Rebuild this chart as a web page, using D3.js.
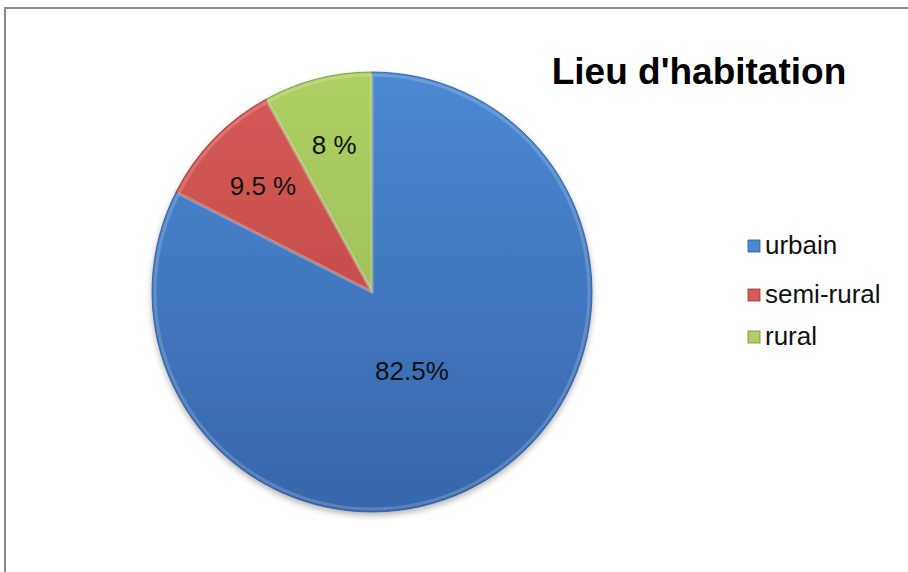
<!DOCTYPE html>
<html>
<head>
<meta charset="utf-8">
<script src="https://cdn.jsdelivr.net/npm/d3@7"></script>
<style>
  body { margin: 0; background: #fff; }
  svg { display: block; font-family: "Liberation Sans", Arial, sans-serif; }
</style>
</head>
<body>
<div id="chart"></div>
<script>
// data
var categories = ["urbain", "semi-rural", "rural"];
var values = [82.5, 9.5, 8];
var labels = ["82.5%", "9.5 %", "8 %"];
var topColors = ["#4c89d3", "#d65a55", "#aed064"];
var bottomColors = ["#3766aa", "#b84440", "#92b250"];
var edgeColors = ["#2f5a96", "#8e3431", "#6f8a38"];
var title = "Lieu d'habitation";

var width = 908, height = 572;
var cx = 372, cy = 292, radius = 220;

var svg = d3.select("#chart").append("svg")
    .attr("width", width)
    .attr("height", height);

// chart frame
svg.append("rect")
    .attr("x", 5).attr("y", 8)
    .attr("width", width + 20).attr("height", height + 20)
    .attr("fill", "#fff")
    .attr("stroke", "#8a8a8a")
    .attr("stroke-width", 2);

var defs = svg.append("defs");

// soft shadow under the pie
var shadow = defs.append("filter").attr("id", "shadow")
    .attr("x", "-20%").attr("y", "-20%").attr("width", "140%").attr("height", "140%");
shadow.append("feGaussianBlur").attr("in", "SourceAlpha").attr("stdDeviation", 3);
shadow.append("feOffset").attr("dx", 0).attr("dy", 3).attr("result", "ob");
shadow.append("feComponentTransfer").append("feFuncA").attr("type", "linear").attr("slope", 0.3);
var merge = shadow.append("feMerge");
merge.append("feMergeNode");
merge.append("feMergeNode").attr("in", "SourceGraphic");

// one gradient per slice, spanning the whole pie
topColors.forEach(function(c, i) {
  var g = defs.append("linearGradient").attr("id", "grad" + i)
      .attr("gradientUnits", "userSpaceOnUse")
      .attr("x1", 0).attr("y1", -radius).attr("x2", 0).attr("y2", radius);
  g.append("stop").attr("offset", "0%").attr("stop-color", c);
  g.append("stop").attr("offset", "100%").attr("stop-color", bottomColors[i]);
});

var pie = d3.pie().sort(null).value(function(d) { return d; });
var arcs = pie(values);

var arc = d3.arc().innerRadius(0).outerRadius(radius);
var innerArc = d3.arc().innerRadius(0).outerRadius(radius - 3);

var g = svg.append("g").attr("transform", "translate(" + cx + "," + cy + ")");

var gp = g.append("g").attr("filter", "url(#shadow)");

gp.selectAll("path.slice")
    .data(arcs)
  .enter().append("path")
    .attr("class", "slice")
    .attr("d", arc)
    .attr("fill", function(d, i) { return "url(#grad" + i + ")"; })
    .attr("stroke", function(d, i) { return edgeColors[i]; })
    .attr("stroke-width", 0.8)
    .attr("stroke-linejoin", "round");

// bevel highlight just inside the edges
g.selectAll("path.bevel")
    .data(arcs)
  .enter().append("path")
    .attr("class", "bevel")
    .attr("d", innerArc)
    .attr("fill", "none")
    .attr("stroke", "#fff")
    .attr("stroke-opacity", 0.18)
    .attr("stroke-width", 3)
    .attr("stroke-linejoin", "round");

// data labels
var labelArcBig = d3.arc().innerRadius(radius * 0.4).outerRadius(radius * 0.4);
var labelArcSmall = d3.arc().innerRadius(radius * 0.69).outerRadius(radius * 0.69);

g.selectAll("text.lbl")
    .data(arcs)
  .enter().append("text")
    .attr("class", "lbl")
    .attr("transform", function(d) {
      var c = (d.data > 50 ? labelArcBig : labelArcSmall).centroid(d);
      if (d.data > 50) c = [c[0] - 6, c[1] + 4];
      return "translate(" + c[0] + "," + c[1] + ")";
    })
    .attr("text-anchor", "middle")
    .attr("dy", "0.35em")
    .style("font-size", "26px")
    .attr("fill", "#111")
    .text(function(d, i) { return labels[i]; });

// title
svg.append("text")
    .attr("x", 699).attr("y", 84)
    .attr("text-anchor", "middle")
    .style("font-size", "37px")
    .style("font-weight", "bold")
    .attr("fill", "#000")
    .text(title);

// legend
var legendY = [245, 294, 336];
var legend = svg.append("g");
var items = legend.selectAll("g.item")
    .data(categories)
  .enter().append("g")
    .attr("class", "item")
    .attr("transform", function(d, i) { return "translate(748," + legendY[i] + ")"; });

items.append("rect")
    .attr("x", 0).attr("y", -5)
    .attr("width", 12).attr("height", 12)
    .attr("fill", function(d, i) { return topColors[i]; })
    .attr("stroke", function(d, i) { return edgeColors[i]; })
    .attr("stroke-width", 0.8);

items.append("text")
    .attr("x", 17)
    .attr("dy", "0.35em")
    .style("font-size", "26px")
    .attr("fill", "#111")
    .text(function(d) { return d; });
</script>
</body>
</html>
